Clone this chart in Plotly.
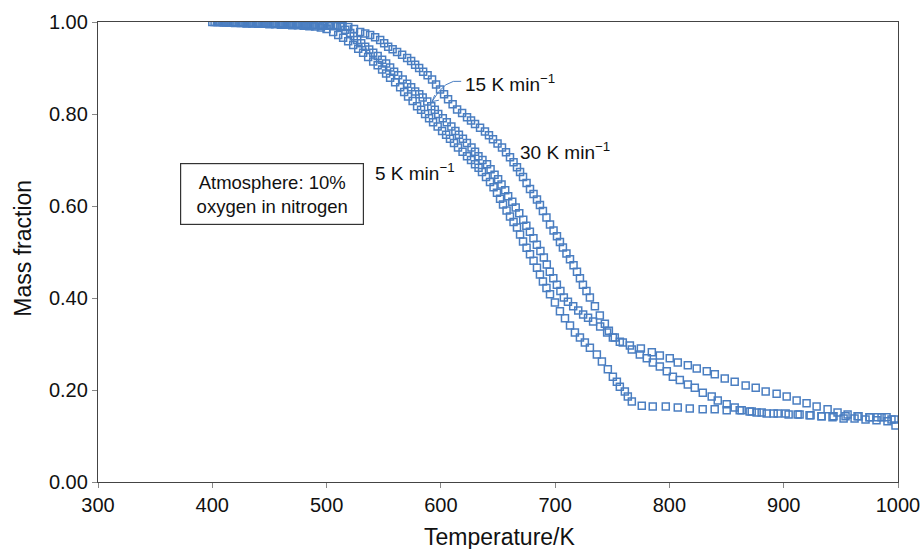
import plotly.graph_objects as go

# ---- data ----
T_5 = [400, 405, 410, 415, 420, 425, 430, 435, 440, 445, 450, 455, 460, 465, 470, 475, 480, 485, 490, 495, 500,
       505.8, 510.2, 514.5, 518.9, 523.3, 527.7, 532.0, 536.4, 540.8, 544.7, 548.6, 552.1, 555.6, 560.0, 564.4,
       567.9, 571.3, 575.3, 579.2, 582.7, 586.2, 589.7, 593.2, 597.2, 601.1, 604.6, 608.0, 611.5, 615.0, 619.0,
       622.9, 626.4, 629.9, 633.0, 636.0, 639.5, 643.0, 646.1, 649.1, 651.8, 654.4, 657.5, 660.5, 663.6, 666.6,
       669.3, 671.9, 675.0, 678.0, 681.1, 684.1, 686.7, 689.3, 692.4, 695.5, 699.8, 704.2,
       708.6, 713.0, 717.3, 721.7, 726.0, 730.4, 736.5, 740.9, 746.1, 750.5, 754.0, 756.6, 761.0, 763.6, 767.1,
       775.8, 785.4, 796.8, 807.3, 817.8, 829.1, 839.6, 850.1, 861.5, 872.0, 880.7, 891.2, 901.7, 912.2, 922.6,
       933.1, 943.6, 954.1, 964.6, 975.1, 985.6, 994.3]
M_5 = [1.000, 1.000, 0.999, 0.999, 0.998, 0.998, 0.997, 0.997, 0.996, 0.996, 0.995, 0.995, 0.994, 0.994, 0.993,
       0.993, 0.992, 0.991, 0.990, 0.988, 0.985,
       0.978, 0.972, 0.966, 0.958, 0.950, 0.942, 0.933, 0.924, 0.914, 0.906, 0.897, 0.888, 0.879, 0.869, 0.858,
       0.848, 0.838, 0.828, 0.817, 0.809, 0.800, 0.791, 0.782, 0.773, 0.763, 0.755, 0.746, 0.737, 0.727, 0.718,
       0.708, 0.700, 0.691, 0.683, 0.674, 0.663, 0.652, 0.641, 0.629, 0.616, 0.603, 0.590, 0.577, 0.565, 0.553,
       0.538, 0.523, 0.509, 0.495, 0.481, 0.466, 0.451, 0.436, 0.422, 0.408, 0.390, 0.371,
       0.356, 0.340, 0.325, 0.314, 0.303, 0.292, 0.277, 0.262, 0.245, 0.229, 0.218, 0.207, 0.197, 0.186, 0.175,
       0.166, 0.164, 0.164, 0.162, 0.160, 0.158, 0.158, 0.156, 0.156, 0.153, 0.151, 0.149, 0.149, 0.147, 0.145,
       0.143, 0.143, 0.143, 0.143, 0.141, 0.141, 0.136]

T_15 = [402, 407, 412, 417, 422, 427, 432, 437, 442, 447, 452, 457, 462, 467, 472, 477, 482, 487, 492, 497, 502, 507,
        512.0, 516.4, 520.7, 523.8, 526.8, 530.3, 533.8, 537.3, 540.8, 544.7, 548.6, 552.1, 555.6, 559.1, 562.6,
        566.6, 570.5, 574.0, 577.5, 581.1, 584.1, 588.1, 591.6, 594.7, 597.7, 601.7, 605.2, 609.2, 612.7, 615.8,
        619.3, 622.8, 626.8, 629.9, 632.9, 636.4, 640.4, 643.5, 647.0, 650.1, 653.1, 656.3, 658.9, 662.5, 665.5,
        668.6, 672.1, 674.8, 677.9, 681.0, 684.0, 687.1, 690.1, 692.7, 695.3, 698.4, 701.5, 704.6, 707.6, 711.2,
        715.8, 720.2, 724.5, 728.8, 733.2, 739.4, 745.5, 752.2, 759.2, 767.1, 774.1, 780.2, 785.5,
        791.6, 797.7, 803.0, 809.1, 816.1, 822.2, 829.2, 837.0, 842.3, 850.1, 857.1, 863.2, 870.2, 876.3, 885.1,
        894.7, 904.3, 913.9, 923.5, 933.1, 942.7, 952.4, 962.0, 971.6, 981.2, 990.8, 997.8]
M_15 = [1.000, 1.000, 0.999, 0.999, 0.999, 0.998, 0.998, 0.998, 0.997, 0.997, 0.996, 0.996, 0.996, 0.995, 0.995,
        0.994, 0.994, 0.993, 0.993, 0.992, 0.992, 0.991,
        0.989, 0.983, 0.976, 0.969, 0.961, 0.954, 0.946, 0.940, 0.933, 0.926, 0.918, 0.910, 0.901, 0.892, 0.884,
        0.875, 0.866, 0.858, 0.849, 0.843, 0.836, 0.827, 0.817, 0.809, 0.800, 0.791, 0.782, 0.773, 0.763, 0.755,
        0.746, 0.737, 0.727, 0.718, 0.708, 0.700, 0.691, 0.680, 0.668, 0.658, 0.647, 0.634, 0.621, 0.609, 0.597,
        0.584, 0.570, 0.557, 0.544, 0.530, 0.516, 0.502, 0.488, 0.473, 0.457, 0.443, 0.429, 0.415, 0.401, 0.392,
        0.382, 0.373, 0.364, 0.357, 0.349, 0.338, 0.325, 0.314, 0.303, 0.288, 0.277, 0.269, 0.260,
        0.251, 0.241, 0.229, 0.222, 0.212, 0.205, 0.194, 0.186, 0.177, 0.169, 0.162, 0.156, 0.153, 0.151, 0.149,
        0.149, 0.147, 0.147, 0.145, 0.143, 0.141, 0.138, 0.138, 0.136, 0.134, 0.132, 0.123]

T_30 = [404, 409, 414, 419, 424, 429, 434, 439, 444, 449, 454, 459, 464, 469, 474, 479, 484, 489, 494, 499, 504, 509,
        514, 519, 524,
        529.4, 533.8, 538.1, 542.5, 546.9, 550.4, 553.9, 557.8, 561.7, 566.1, 570.5, 574.0, 577.5, 581.0, 584.5,
        588.4, 592.3, 595.8, 599.3, 602.8, 606.3, 610.3, 614.2, 618.6, 622.9, 626.4, 629.9, 634.3, 638.6, 642.1,
        645.6, 649.6, 653.5, 657.0, 660.5, 663.6, 666.6, 669.3, 671.9, 675.0, 678.0, 681.1, 684.1, 686.7, 689.3,
        692.4, 695.5, 698.6, 701.6, 704.2, 706.8, 709.9, 713.0, 716.1, 719.1, 721.7, 724.3, 727.4, 730.4, 734.8,
        739.1, 743.5, 747.0, 750.5,
        756.6, 765.4, 775.0, 784.6, 791.6, 800.3, 807.3, 816.1, 823.9, 832.7, 839.7, 848.4, 857.1, 866.7, 875.5,
        884.2, 893.8, 902.6, 911.3, 920.0, 928.8, 938.4, 947.1, 955.9, 965.5, 975.1, 982.1, 990.0, 997.0]
M_30 = [1.000, 1.000, 1.000, 0.999, 0.999, 0.999, 0.998, 0.998, 0.998, 0.997, 0.997, 0.997, 0.996, 0.996, 0.996,
        0.995, 0.995, 0.994, 0.994, 0.993, 0.993, 0.992, 0.991, 0.989, 0.985,
        0.978, 0.975, 0.972, 0.967, 0.961, 0.954, 0.946, 0.941, 0.935, 0.929, 0.922, 0.915, 0.907, 0.900, 0.892,
        0.884, 0.875, 0.864, 0.853, 0.843, 0.832, 0.821, 0.810, 0.802, 0.793, 0.786, 0.778, 0.770, 0.762, 0.754,
        0.745, 0.736, 0.727, 0.717, 0.706, 0.695, 0.684, 0.674, 0.663, 0.650, 0.637, 0.626, 0.614, 0.602, 0.589,
        0.575, 0.560, 0.547, 0.534, 0.522, 0.510, 0.497, 0.484, 0.471, 0.457, 0.443, 0.429, 0.415, 0.401, 0.382,
        0.362, 0.344, 0.329, 0.314,
        0.305, 0.297, 0.290, 0.282, 0.275, 0.269, 0.260, 0.254, 0.247, 0.241, 0.234, 0.225, 0.218, 0.210, 0.205,
        0.197, 0.192, 0.186, 0.177, 0.171, 0.164, 0.158, 0.151, 0.147, 0.143, 0.141, 0.141, 0.141, 0.136]

SERIES = [("5 K min-1", T_5, M_5), ("15 K min-1", T_15, M_15), ("30 K min-1", T_30, M_30)]

X_TICKS = [300, 400, 500, 600, 700, 800, 900, 1000]
Y_TICKS = [0.0, 0.2, 0.4, 0.6, 0.8, 1.0]

BLUE = "#4A7EC1"
FONT = "Liberation Sans, Arial, sans-serif"
INK = "#111111"

fig = go.Figure()
for name, t, m in SERIES:
    fig.add_trace(go.Scatter(
        x=t, y=m, mode="markers", name=name,
        marker=dict(symbol="square-open", size=7, color=BLUE, line=dict(width=1.5, color=BLUE)),
        showlegend=False,
    ))

fig.update_layout(
    width=922, height=549,
    margin=dict(l=98, r=24, t=22, b=67, autoexpand=False),
    paper_bgcolor="white", plot_bgcolor="white",
    font=dict(family=FONT, size=20, color=INK),
)
fig.update_xaxes(
    range=[300, 1000], tickvals=X_TICKS, ticktext=[str(v) for v in X_TICKS],
    showgrid=False, zeroline=False, showline=True, linecolor="#444", linewidth=1.3, mirror=True,
    ticks="outside", ticklen=5, tickcolor="#888", tickfont=dict(size=20, family=FONT, color=INK),
    automargin=False,
)
fig.update_yaxes(
    range=[0, 1.0], tickvals=Y_TICKS, ticktext=[f"{v:.2f}" for v in Y_TICKS],
    showgrid=False, zeroline=False, showline=True, linecolor="#444", linewidth=1.3, mirror=True,
    ticks="outside", ticklen=5, tickcolor="#888", tickfont=dict(size=20, family=FONT, color=INK),
    automargin=False,
)

# axis titles
fig.add_annotation(x=0.5025, y=-0.12, xref="paper", yref="paper", text="Temperature/K",
                   showarrow=False, xanchor="center", yanchor="middle",
                   font=dict(size=23, family=FONT, color=INK))
fig.add_annotation(x=-0.094, y=0.509, xref="paper", yref="paper", text="Mass fraction",
                   showarrow=False, xanchor="center", yanchor="middle", textangle=-90,
                   font=dict(size=23, family=FONT, color=INK))

ann_font = dict(size=19, family=FONT, color=INK)
fig.add_annotation(x=619.4, y=0.868, xref="x", yref="y", text="15 K min<sup>−1</sup>",
                   showarrow=False, xanchor="left", yanchor="middle", font=ann_font)
fig.add_annotation(x=667.5, y=0.719, xref="x", yref="y", text="30 K min<sup>−1</sup>",
                   showarrow=False, xanchor="left", yanchor="middle", font=ann_font)
fig.add_annotation(x=540.7, y=0.675, xref="x", yref="y", text="5 K min<sup>−1</sup>",
                   showarrow=False, xanchor="left", yanchor="middle", font=ann_font)
fig.add_annotation(x=452.0, y=0.627, xref="x", yref="y",
                   text="Atmosphere: 10%<br>oxygen in nitrogen",
                   showarrow=False, xanchor="center", yanchor="middle", align="center",
                   width=170, height=48,
                   font=dict(size=18.5, family=FONT, color=INK),
                   bordercolor="#333", borderwidth=1.2, borderpad=6, bgcolor="white")

# curved arrow from the "15 K" label to its curve
fig.add_shape(type="path", xref="x", yref="y",
              path="M 617.8,0.871 Q 603.7,0.878 592.3,0.827",
              line=dict(color=BLUE, width=1))
fig.add_shape(type="path", xref="x", yref="y",
              path="M 594.6,0.841 L 592.3,0.827 L 598.3,0.830",
              line=dict(color=BLUE, width=1))

fig.write_html("out.html")
